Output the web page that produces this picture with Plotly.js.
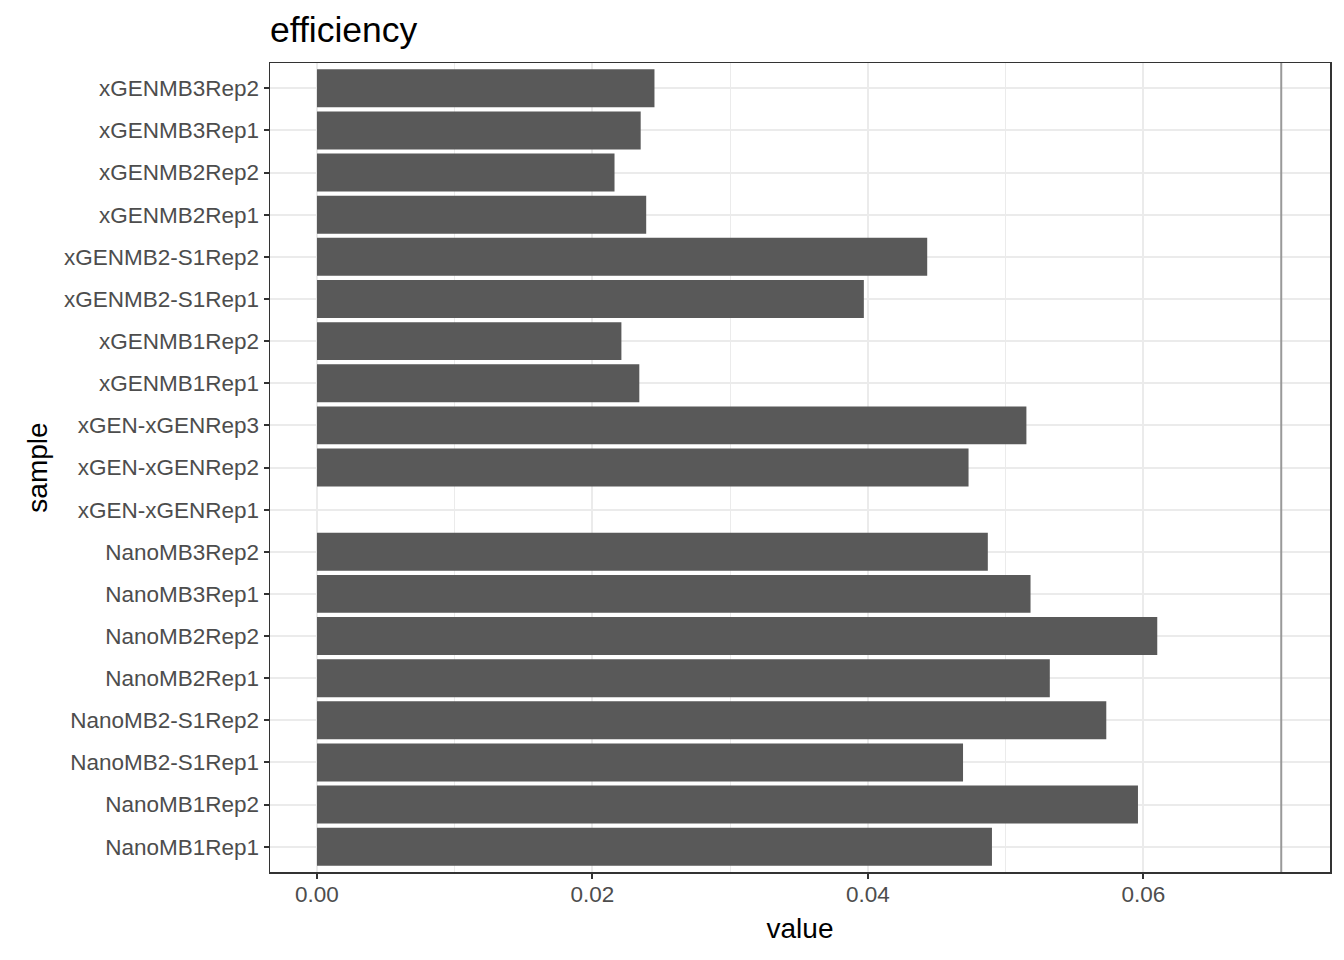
<!DOCTYPE html>
<html>
<head>
<meta charset="utf-8">
<script src="https://cdn.plot.ly/plotly-3.0.1.min.js"></script>
<style>html,body{margin:0;padding:0;background:#fff;}#chart{width:1344px;height:960px;}</style>
</head>
<body>
<div id="chart"></div>
<script>
// Categories from bottom to top
const samples = [
  "NanoMB1Rep1", "NanoMB1Rep2", "NanoMB2-S1Rep1", "NanoMB2-S1Rep2",
  "NanoMB2Rep1", "NanoMB2Rep2", "NanoMB3Rep1", "NanoMB3Rep2",
  "xGEN-xGENRep1", "xGEN-xGENRep2", "xGEN-xGENRep3",
  "xGENMB1Rep1", "xGENMB1Rep2", "xGENMB2-S1Rep1", "xGENMB2-S1Rep2",
  "xGENMB2Rep1", "xGENMB2Rep2", "xGENMB3Rep1", "xGENMB3Rep2"
];
const values = [
  0.0490, 0.0596, 0.0469, 0.0573,
  0.0532, 0.0610, 0.0518, 0.0487,
  null, 0.0473, 0.0515,
  0.0234, 0.0221, 0.0397, 0.0443,
  0.0239, 0.0216, 0.0235, 0.0245
];
const threshold = 0.07;
const xTicks = [0, 0.02, 0.04, 0.06];
const xTickLabels = ["0.00", "0.02", "0.04", "0.06"];
const xMinorTicks = [0.01, 0.03, 0.05, 0.07];

const trace = {
  type: "bar",
  orientation: "h",
  x: values,
  y: samples,
  width: 0.9,
  marker: {color: "#595959", line: {width: 0}},
  hoverinfo: "x+y"
};

const layout = {
  width: 1344,
  height: 960,
  paper_bgcolor: "#ffffff",
  plot_bgcolor: "#ffffff",
  margin: {l: 270, r: 14, t: 63, b: 88},
  font: {family: "Liberation Sans, Arial, sans-serif", color: "#000"},
  showlegend: false,
  bargap: 0.1,
  title: {
    text: "efficiency",
    font: {size: 35.5, color: "#000"},
    xref: "paper", x: 0, xanchor: "left",
    yref: "container", y: 1 - 30/960, yanchor: "middle"
  },
  xaxis: {
    range: [-0.00341, 0.07354],
    tickmode: "array",
    tickvals: xTicks,
    ticktext: xTickLabels,
    ticks: "outside",
    ticklen: 5,
    tickwidth: 2,
    tickcolor: "#333333",
    tickfont: {size: 22.5, color: "#4D4D4D"},
    ticklabelstandoff: -4,
    showgrid: true,
    gridcolor: "#EBEBEB",
    gridwidth: 2,
    minor: {tickmode: "array", tickvals: xMinorTicks, showgrid: true, gridcolor: "#EBEBEB", gridwidth: 1.2, ticks: ""},
    zeroline: false,
    showline: true,
    linecolor: "#333333",
    linewidth: 1.5,
    mirror: true,
    automargin: false,
    title: {text: "value", font: {size: 28, color: "#000"}, standoff: 13}
  },
  yaxis: {
    type: "category",
    categoryorder: "array",
    categoryarray: samples,
    range: [-0.6, 18.6],
    ticks: "outside",
    ticklen: 5,
    tickwidth: 2,
    tickcolor: "#333333",
    tickfont: {size: 22.5, color: "#4D4D4D"},
    showgrid: true,
    gridcolor: "#EBEBEB",
    gridwidth: 2,
    zeroline: false,
    showline: true,
    linecolor: "#333333",
    linewidth: 1.5,
    mirror: true,
    automargin: false,
    title: {text: "sample", font: {size: 28, color: "#000"}, standoff: 8}
  },
  shapes: [{
    type: "line",
    xref: "x", yref: "paper",
    x0: threshold, x1: threshold, y0: 0, y1: 1,
    line: {color: "#999999", width: 2}
  }]
};

Plotly.newPlot("chart", [trace], layout, {displayModeBar: false, staticPlot: true});
</script>
</body>
</html>
